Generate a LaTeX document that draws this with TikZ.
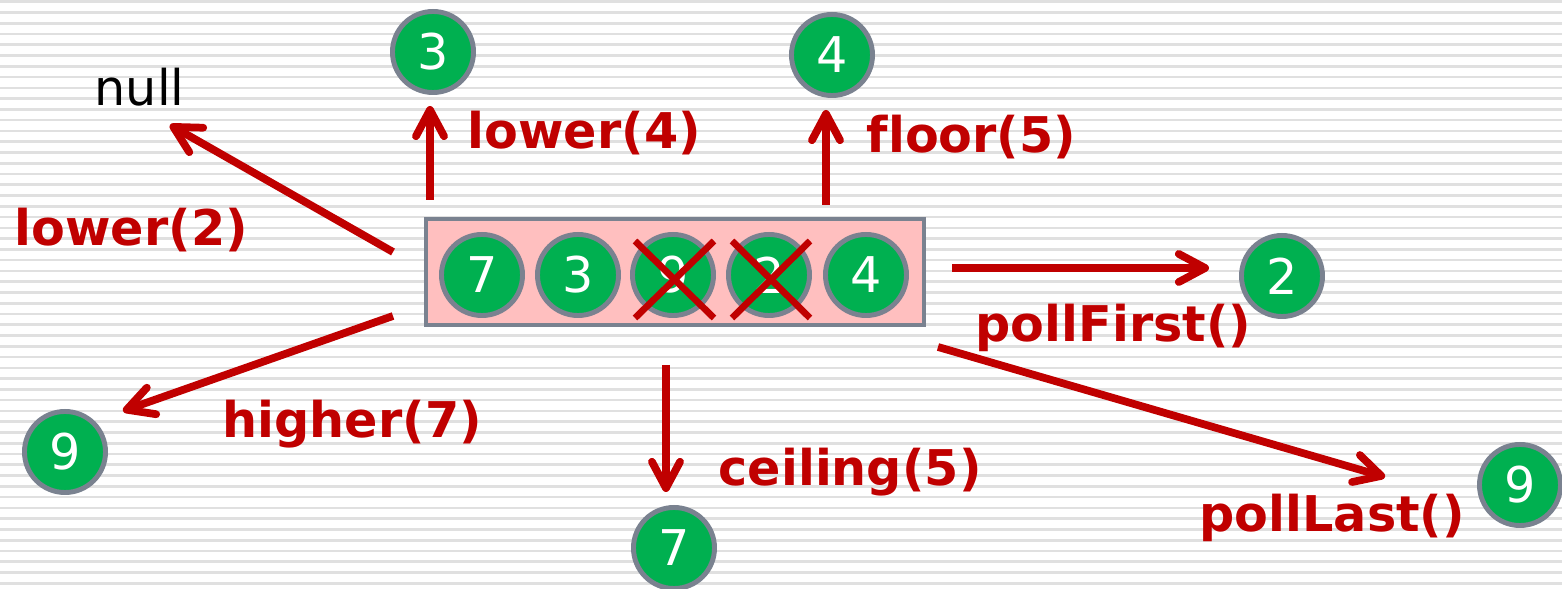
\documentclass[tikz,border=0pt]{standalone}
\usepackage{fontspec}
\setmainfont{DejaVu Sans}[Ligatures=NoCommon]
\usetikzlibrary{arrows.meta}

\definecolor{darkred}{HTML}{C00000}
\definecolor{ballgreen}{HTML}{00B050}
\definecolor{rimgray}{HTML}{7A8290}
\definecolor{boxpink}{HTML}{FFBFBF}
\definecolor{stripegray}{HTML}{E0E0E0}

\tikzset{
  ball/.style={circle, fill=ballgreen, draw=rimgray, line width=1.4pt,
    minimum size=0.81cm, inner sep=0pt, text=white,
    font=\fontsize{14}{14}\selectfont},
  queuebox/.style={rectangle, fill=boxpink, draw=rimgray, line width=1.2pt,
    minimum width=4.98cm, minimum height=1.06cm, inner sep=0pt},
  oplabel/.style={anchor=west, inner sep=0pt, text=darkred,
    font=\bfseries\fontsize{14}{14}\selectfont},
  arr/.style={draw=darkred, line width=2.2pt,
    -{Straight Barb[length=7.5pt,width=8pt,round]}},
  crossline/.style={draw=darkred, line width=1.9pt}
}

\begin{document}
\begin{tikzpicture}[x=0.01cm, y=-0.01cm]

\useasboundingbox (0,0) rectangle (1562,589);

% striped background
\foreach \i in {0,...,54}
  \draw[stripegray, line width=0.75pt] (0,{1.7+10.77*\i}) -- (1562,{1.7+10.77*\i});

% the set with its five elements
\node (queue) [queuebox] at (675,272) {};
\node (b7) [ball] at (482,275) {7};
\node (b3) [ball] at (578,275) {3};
\node (b9) [ball] at (673,275) {9};
\node (b2) [ball] at (769,275) {2};
\node (b4) [ball] at (866,275) {4};

% removed elements
\draw[crossline] (635,241) -- (714,318);
\draw[crossline] (635,318) -- (714,241);
\draw[crossline] (732,241) -- (810,318);
\draw[crossline] (732,318) -- (810,241);

% results
\node (r3) [ball] at (433,52) {3};
\node (r4) [ball] at (832,55) {4};
\node (r2) [ball] at (1282,276) {2};
\node (r9a) [ball] at (65,452) {9};
\node (r7) [ball] at (674,548) {7};
\node (r9b) [ball] at (1520,485) {9};
\node (null) [anchor=west, inner sep=0pt, font=\fontsize{14}{14}\selectfont] at (94,87) {null};

% arrow ends
\coordinate (s3) at (430,200);  \coordinate (e3) at (430,106);
\coordinate (s4) at (826,205);  \coordinate (e4) at (826,110);
\coordinate (sn) at (393,252);  \coordinate (en) at (170,125);
\coordinate (s9) at (393,316);  \coordinate (e9) at (123,411);
\coordinate (s7) at (666,365);  \coordinate (e7) at (666,492);
\coordinate (s2) at (952,268);  \coordinate (e2) at (1209,268);
\coordinate (sl) at (938,347);  \coordinate (el) at (1385,477);

% operations
\draw[arr] (s3) -- (e3);
\draw[arr] (s4) -- (e4);
\draw[arr] (sn) -- (en);
\draw[arr] (s9) -- (e9);
\draw[arr] (s7) -- (e7);
\draw[arr] (s2) -- (e2);
\draw[arr] (sl) -- (el);

% labels
\node (l4) [oplabel] at (467,133) {lower(4)};
\node (f5) [oplabel] at (866,137) {floor(5)};
\node (l2) [oplabel] at (14,230) {lower(2)};
\node (h7) [oplabel] at (222,424) {higher(7)};
\node (c5) [oplabel] at (718,472) {ceiling(5)};
\node (pf) [oplabel] at (975,328) {pollFirst()};
\node (pl) [oplabel] at (1199,518) {pollLast()};

\end{tikzpicture}
\end{document}
